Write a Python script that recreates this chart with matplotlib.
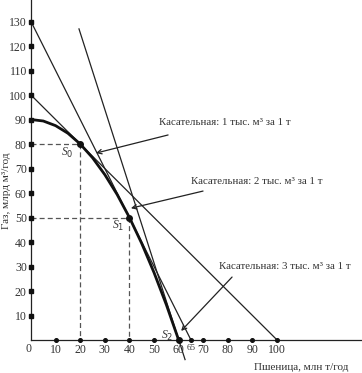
import matplotlib
matplotlib.use("Agg")
import matplotlib.pyplot as plt

plt.rcParams['font.family'] = ['Liberation Serif', 'DejaVu Serif']

# ---- data ----
curve_x = [0, 5, 10, 15, 20, 25, 30, 35, 40, 45, 50, 55, 60]
curve_y = [90, 89.4, 87.5, 84.4, 80, 74.4, 67.5, 59.4, 50, 39.4, 27.5, 14.4, 0]

tan1_x = [0, 100]
tan1_y = [100, 0]
tan2_x = [0, 65]
tan2_y = [130, 0]
tan3_x = [19.5, 62.6]
tan3_y = [127, -8]

points_x = [20, 40, 60]
points_y = [80, 50, 0]
point_labels = ["S$_0$", "S$_1$", "S$_2$"]

x_ticks = [10, 20, 30, 40, 50, 60, 65, 70, 80, 90, 100]
y_ticks = [10, 20, 30, 40, 50, 60, 70, 80, 90, 100, 110, 120, 130]

ann_texts = ["Касательная: 1 тыс. м³ за 1 т",
             "Касательная: 2 тыс. м³ за 1 т",
             "Касательная: 3 тыс. м³ за 1 т"]
ann_text_xy = [(52, 88.6), (65, 64.9), (76.4, 30.2)]
ann_start_xy = [(55.7, 83.7), (69.9, 60.8), (81.7, 25.7)]
ann_tip_xy = [(26.4, 76.3), (40.6, 53.8), (61.0, 3.7)]

x_label = "Пшеница, млн т/год"
y_label = "Газ, млрд м³/год"

# ---- figure ----
W, H = 362, 373
fig = plt.figure(figsize=(W / 100, H / 100), dpi=100)
ax = fig.add_axes([31 / W, 33 / H, 331 / W, 340 / H])
ax.set_xlim(0, 134.5)
ax.set_ylim(0, 138.8)
for s in ['top', 'right']:
    ax.spines[s].set_visible(False)
for s in ['left', 'bottom']:
    ax.spines[s].set_linewidth(0.9)
    ax.spines[s].set_color('#222222')

txt_col = '#333333'
ax.set_xticks(x_ticks)
ax.set_xticklabels([str(v) for v in x_ticks])
ax.set_yticks(y_ticks)
ax.set_yticklabels([str(v) for v in y_ticks])
ax.tick_params(length=0, labelsize=8.5, colors=txt_col, pad=3)
for lbl in ax.get_xticklabels():
    if lbl.get_text() == '65':
        lbl.set_fontsize(6.5)
        lbl.set_va('top')
ax.text(-1.2, -3.7, "0", ha='center', va='center', fontsize=8.5,
        color=txt_col, clip_on=False)

# tick dots
ax.plot(x_ticks, [0] * len(x_ticks), ls='none', marker='o', ms=2.6,
        color='#111111', clip_on=False, zorder=5)
ax.plot([0] * len(y_ticks), y_ticks, ls='none', marker='s', ms=2.3,
        color='#111111', clip_on=False, zorder=5)

# dashed guides
for px, py in zip(points_x[:2], points_y[:2]):
    ax.plot([0, px, px], [py, py, 0], ls=(0, (4, 2.5)), lw=0.9,
            color='#555555', zorder=2)

# tangents
ax.plot(tan1_x, tan1_y, color='#222222', lw=0.9, zorder=3)
ax.plot(tan2_x, tan2_y, color='#222222', lw=0.9, zorder=3)
ax.plot(tan3_x, tan3_y, color='#222222', lw=0.9, zorder=3, clip_on=False)

# frontier
ax.plot(curve_x, curve_y, color='#111111', lw=2.0, zorder=4,
        solid_capstyle='butt')

# points
ax.plot(points_x, points_y, ls='none', marker='o', ms=4, color='#111111',
        zorder=6, clip_on=False)
lab_off = [(-2.5, -3.5), (-2.0, -3.5), (-2.0, 1.5)]
for (px, py), (dx, dy), t in zip(zip(points_x, points_y), lab_off, point_labels):
    ax.text(px + dx, py + dy, t, ha='right', va='center', fontsize=8.5,
            color=txt_col, fontstyle='italic')

# annotations
for t, txy, sxy, exy in zip(ann_texts, ann_text_xy, ann_start_xy, ann_tip_xy):
    ax.text(txy[0], txy[1], t, ha='left', va='center', fontsize=7.8,
            color=txt_col)
    ax.annotate("", xy=exy, xytext=sxy,
                arrowprops=dict(arrowstyle='->', lw=0.9, color='#222222',
                                shrinkA=0, shrinkB=0, mutation_scale=8),
                zorder=7)

# axis labels
fig.text(301 / W, 1 - 368 / H, x_label, ha='center', va='center',
         fontsize=8, color=txt_col)
fig.text(7 / W, 1 - 191 / H, y_label, ha='center', va='center',
         rotation=90, fontsize=8, color=txt_col)

fig.savefig("out.png", dpi=100)
